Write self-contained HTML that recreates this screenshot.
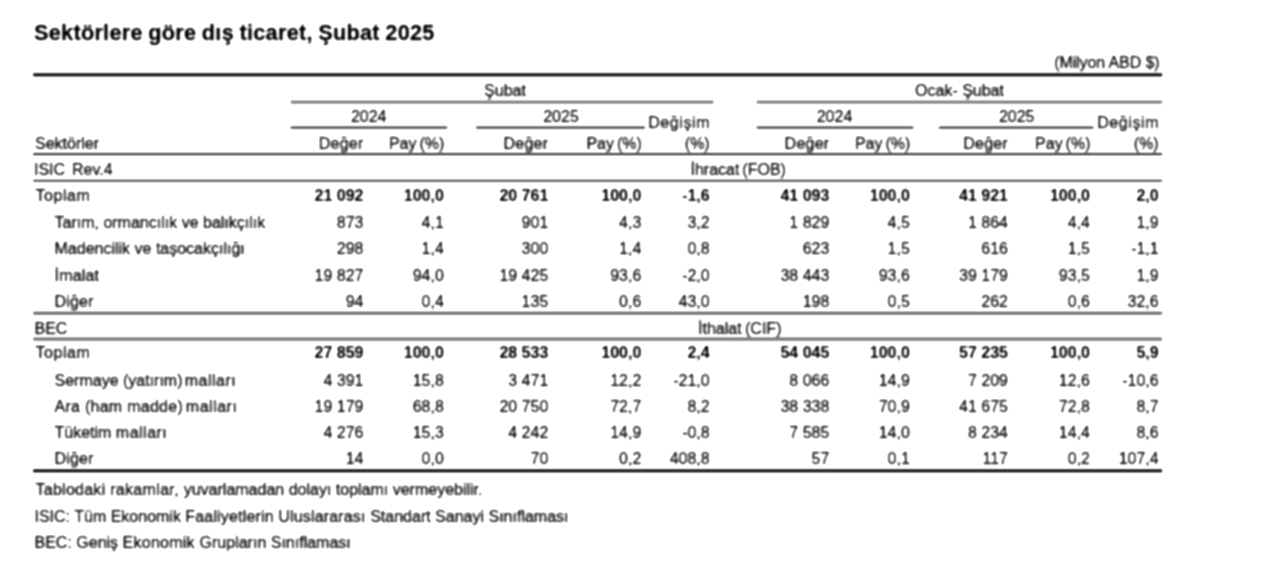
<!DOCTYPE html>
<html lang="tr"><head><meta charset="utf-8"><title>Sektörlere göre dış ticaret</title>
<style>
html,body{margin:0;padding:0;background:#fff;}
body{width:1280px;height:581px;position:relative;overflow:hidden;filter:blur(0.8px) contrast(1.3);-webkit-text-stroke:0.45px #151515;font-family:"Liberation Sans",sans-serif;color:#151515;font-size:16px;line-height:17px;}
.t{position:absolute;white-space:nowrap;height:17px;}
.r{text-align:right;}
.c{text-align:center;}
.b{font-weight:bold;color:#0a0a0a;-webkit-text-stroke:0.2px #0a0a0a;}
.ln{position:absolute;}
.title{position:absolute;left:34px;font-size:21.7px;letter-spacing:0.27px;word-spacing:-0.8px;line-height:25px;height:25px;font-weight:bold;color:#111;white-space:nowrap;-webkit-text-stroke:0.35px #0a0a0a;}
</style></head><body>

<div class="title" style="top:20px">Sektörlere göre dış ticaret, Şubat 2025</div>
<div class="t r " style="right:120.5px;top:54px;letter-spacing:-0.1px">(Milyon ABD $)</div>
<div class="t c " style="left:355px;width:300px;top:82px;">Şubat</div>
<div class="t c " style="left:809.5px;width:300px;top:82px;">Ocak- Şubat</div>
<div class="t c " style="left:218.7px;width:300px;top:108px;">2024</div>
<div class="t c " style="left:411px;width:300px;top:108px;">2025</div>
<div class="t c " style="left:684.5px;width:300px;top:108px;">2024</div>
<div class="t c " style="left:866.7px;width:300px;top:108px;">2025</div>
<div class="t r " style="right:569.8px;top:114px;letter-spacing:0.6px">Değişim</div>
<div class="t r " style="right:120.8px;top:114px;letter-spacing:0.6px">Değişim</div>
<div class="t " style="left:35px;top:135px;">Sektörler</div>
<div class="t r " style="right:916.5px;top:135px;letter-spacing:.25px">Değer</div>
<div class="t r " style="right:835.7px;top:135px;word-spacing:-1.5px">Pay (%)</div>
<div class="t r " style="right:731.7px;top:135px;letter-spacing:.25px">Değer</div>
<div class="t r " style="right:638.2px;top:135px;word-spacing:-1.5px">Pay (%)</div>
<div class="t r " style="right:570.3px;top:135px;">(%)</div>
<div class="t r " style="right:450.6px;top:135px;letter-spacing:.25px">Değer</div>
<div class="t r " style="right:369.7px;top:135px;word-spacing:-1.5px">Pay (%)</div>
<div class="t r " style="right:272px;top:135px;letter-spacing:.25px">Değer</div>
<div class="t r " style="right:189.5px;top:135px;word-spacing:-1.5px">Pay (%)</div>
<div class="t r " style="right:121.3px;top:135px;">(%)</div>
<div class="t " style="left:34px;top:161px;word-spacing:-1px">ISIC&nbsp; Rev.4</div>
<div class="t " style="left:690.5px;top:161px;word-spacing:-1.5px">İhracat (FOB)</div>
<div class="t " style="left:34.5px;top:320px;">BEC</div>
<div class="t " style="left:698px;top:320px;word-spacing:-1px">İthalat (CIF)</div>
<div class="t " style="left:35.5px;top:187px;letter-spacing:0.55px">Toplam</div>
<div class="t r b" style="right:916.5px;top:187px;">21 092</div>
<div class="t r b" style="right:836.2px;top:187px;">100,0</div>
<div class="t r b" style="right:731.7px;top:187px;">20 761</div>
<div class="t r b" style="right:638.7px;top:187px;">100,0</div>
<div class="t r b" style="right:570.3px;top:187px;">-1,6</div>
<div class="t r b" style="right:450.6px;top:187px;">41 093</div>
<div class="t r b" style="right:370.2px;top:187px;">100,0</div>
<div class="t r b" style="right:272px;top:187px;">41 921</div>
<div class="t r b" style="right:190px;top:187px;">100,0</div>
<div class="t r b" style="right:121.3px;top:187px;">2,0</div>
<div class="t " style="left:54.5px;top:214px;">Tarım, ormancılık ve balıkçılık</div>
<div class="t r " style="right:916.5px;top:214px;">873</div>
<div class="t r " style="right:836.2px;top:214px;">4,1</div>
<div class="t r " style="right:731.7px;top:214px;">901</div>
<div class="t r " style="right:638.7px;top:214px;">4,3</div>
<div class="t r " style="right:570.3px;top:214px;">3,2</div>
<div class="t r " style="right:450.6px;top:214px;">1 829</div>
<div class="t r " style="right:370.2px;top:214px;">4,5</div>
<div class="t r " style="right:272px;top:214px;">1 864</div>
<div class="t r " style="right:190px;top:214px;">4,4</div>
<div class="t r " style="right:121.3px;top:214px;">1,9</div>
<div class="t " style="left:54.5px;top:240px;">Madencilik ve taşocakçılığı</div>
<div class="t r " style="right:916.5px;top:240px;">298</div>
<div class="t r " style="right:836.2px;top:240px;">1,4</div>
<div class="t r " style="right:731.7px;top:240px;">300</div>
<div class="t r " style="right:638.7px;top:240px;">1,4</div>
<div class="t r " style="right:570.3px;top:240px;">0,8</div>
<div class="t r " style="right:450.6px;top:240px;">623</div>
<div class="t r " style="right:370.2px;top:240px;">1,5</div>
<div class="t r " style="right:272px;top:240px;">616</div>
<div class="t r " style="right:190px;top:240px;">1,5</div>
<div class="t r " style="right:121.3px;top:240px;">-1,1</div>
<div class="t " style="left:54.5px;top:267px;letter-spacing:0.2px">İmalat</div>
<div class="t r " style="right:916.5px;top:267px;">19 827</div>
<div class="t r " style="right:836.2px;top:267px;">94,0</div>
<div class="t r " style="right:731.7px;top:267px;">19 425</div>
<div class="t r " style="right:638.7px;top:267px;">93,6</div>
<div class="t r " style="right:570.3px;top:267px;">-2,0</div>
<div class="t r " style="right:450.6px;top:267px;">38 443</div>
<div class="t r " style="right:370.2px;top:267px;">93,6</div>
<div class="t r " style="right:272px;top:267px;">39 179</div>
<div class="t r " style="right:190px;top:267px;">93,5</div>
<div class="t r " style="right:121.3px;top:267px;">1,9</div>
<div class="t " style="left:54.5px;top:293px;letter-spacing:0.2px">Diğer</div>
<div class="t r " style="right:916.5px;top:293px;">94</div>
<div class="t r " style="right:836.2px;top:293px;">0,4</div>
<div class="t r " style="right:731.7px;top:293px;">135</div>
<div class="t r " style="right:638.7px;top:293px;">0,6</div>
<div class="t r " style="right:570.3px;top:293px;">43,0</div>
<div class="t r " style="right:450.6px;top:293px;">198</div>
<div class="t r " style="right:370.2px;top:293px;">0,5</div>
<div class="t r " style="right:272px;top:293px;">262</div>
<div class="t r " style="right:190px;top:293px;">0,6</div>
<div class="t r " style="right:121.3px;top:293px;">32,6</div>
<div class="t " style="left:35.5px;top:344px;letter-spacing:0.55px">Toplam</div>
<div class="t r b" style="right:916.5px;top:344px;">27 859</div>
<div class="t r b" style="right:836.2px;top:344px;">100,0</div>
<div class="t r b" style="right:731.7px;top:344px;">28 533</div>
<div class="t r b" style="right:638.7px;top:344px;">100,0</div>
<div class="t r b" style="right:570.3px;top:344px;">2,4</div>
<div class="t r b" style="right:450.6px;top:344px;">54 045</div>
<div class="t r b" style="right:370.2px;top:344px;">100,0</div>
<div class="t r b" style="right:272px;top:344px;">57 235</div>
<div class="t r b" style="right:190px;top:344px;">100,0</div>
<div class="t r b" style="right:121.3px;top:344px;">5,9</div>
<div class="t " style="left:54.5px;top:372px;">Sermaye (yatırım)<span style="letter-spacing:.5px;margin-left:2.2px">malları</span></div>
<div class="t r " style="right:916.5px;top:372px;">4 391</div>
<div class="t r " style="right:836.2px;top:372px;">15,8</div>
<div class="t r " style="right:731.7px;top:372px;">3 471</div>
<div class="t r " style="right:638.7px;top:372px;">12,2</div>
<div class="t r " style="right:570.3px;top:372px;">-21,0</div>
<div class="t r " style="right:450.6px;top:372px;">8 066</div>
<div class="t r " style="right:370.2px;top:372px;">14,9</div>
<div class="t r " style="right:272px;top:372px;">7 209</div>
<div class="t r " style="right:190px;top:372px;">12,6</div>
<div class="t r " style="right:121.3px;top:372px;">-10,6</div>
<div class="t " style="left:54.5px;top:398px;"><span style="letter-spacing:.27px">Ara (ham madde)</span><span style="letter-spacing:.5px;margin-left:2.8px">malları</span></div>
<div class="t r " style="right:916.5px;top:398px;">19 179</div>
<div class="t r " style="right:836.2px;top:398px;">68,8</div>
<div class="t r " style="right:731.7px;top:398px;">20 750</div>
<div class="t r " style="right:638.7px;top:398px;">72,7</div>
<div class="t r " style="right:570.3px;top:398px;">8,2</div>
<div class="t r " style="right:450.6px;top:398px;">38 338</div>
<div class="t r " style="right:370.2px;top:398px;">70,9</div>
<div class="t r " style="right:272px;top:398px;">41 675</div>
<div class="t r " style="right:190px;top:398px;">72,8</div>
<div class="t r " style="right:121.3px;top:398px;">8,7</div>
<div class="t " style="left:54.5px;top:424px;">Tüketim<span style="letter-spacing:.5px;margin-left:4.4px">malları</span></div>
<div class="t r " style="right:916.5px;top:424px;">4 276</div>
<div class="t r " style="right:836.2px;top:424px;">15,3</div>
<div class="t r " style="right:731.7px;top:424px;">4 242</div>
<div class="t r " style="right:638.7px;top:424px;">14,9</div>
<div class="t r " style="right:570.3px;top:424px;">-0,8</div>
<div class="t r " style="right:450.6px;top:424px;">7 585</div>
<div class="t r " style="right:370.2px;top:424px;">14,0</div>
<div class="t r " style="right:272px;top:424px;">8 234</div>
<div class="t r " style="right:190px;top:424px;">14,4</div>
<div class="t r " style="right:121.3px;top:424px;">8,6</div>
<div class="t " style="left:54.5px;top:450px;letter-spacing:0.2px">Diğer</div>
<div class="t r " style="right:916.5px;top:450px;">14</div>
<div class="t r " style="right:836.2px;top:450px;">0,0</div>
<div class="t r " style="right:731.7px;top:450px;">70</div>
<div class="t r " style="right:638.7px;top:450px;">0,2</div>
<div class="t r " style="right:570.3px;top:450px;">408,8</div>
<div class="t r " style="right:450.6px;top:450px;">57</div>
<div class="t r " style="right:370.2px;top:450px;">0,1</div>
<div class="t r " style="right:272px;top:450px;">117</div>
<div class="t r " style="right:190px;top:450px;">0,2</div>
<div class="t r " style="right:121.3px;top:450px;">107,4</div>
<div class="t " style="left:35.5px;top:481px;"><span style="letter-spacing:.26px">Tablodaki </span><span style="letter-spacing:.33px">rakamlar, </span>yuvarlamadan dolayı toplamı vermeyebilir.</div>
<div class="t " style="left:34.5px;top:508px;">ISIC: Tüm Ekonomik <span style="letter-spacing:.16px">Faaliyetlerin Uluslararası </span>Standart Sanayi Sınıflaması</div>
<div class="t " style="left:34.5px;top:534px;">BEC: Geniş <span style="letter-spacing:.26px">Ekonomik </span>Grupların Sınıflaması</div>
<svg width="1280" height="581" style="position:absolute;left:0;top:0"><rect x="33" y="73.1" width="1129.3" height="3.4" fill="#1c1c1c"/><rect x="290.5" y="100.3" width="423.3" height="3.6" fill="#7c7c7c"/><rect x="756.5" y="100.3" width="405.8" height="3.6" fill="#7c7c7c"/><rect x="290.5" y="126.15" width="156.9" height="2.9" fill="#545454"/><rect x="476" y="126.15" width="169" height="2.9" fill="#545454"/><rect x="756.5" y="126.15" width="157.1" height="2.9" fill="#545454"/><rect x="938.7" y="126.15" width="154.8" height="2.9" fill="#545454"/><rect x="33" y="153.0" width="1129.3" height="2.2" fill="#262626"/><rect x="33" y="179.65" width="1129.3" height="2.2" fill="#3c3c3c"/><rect x="33" y="311.5" width="1129.3" height="3.4" fill="#686868"/><rect x="33" y="337.1" width="1129.3" height="4.0" fill="#7c7c7c"/><rect x="33" y="469.2" width="1129.3" height="3.2" fill="#141414"/></svg>
</body></html>
